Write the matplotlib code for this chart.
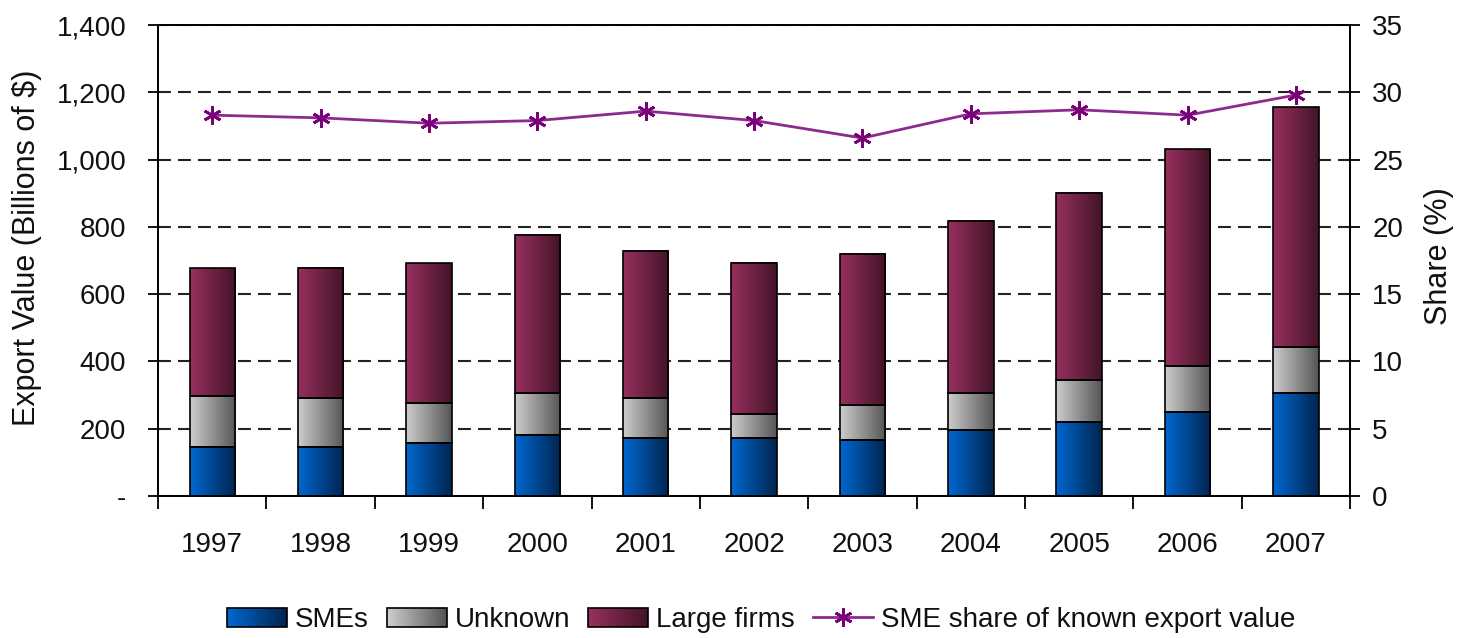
import numpy as np
import matplotlib
matplotlib.use('Agg')
import matplotlib.pyplot as plt
from matplotlib.colors import LinearSegmentedColormap, to_rgb
from matplotlib.patches import Rectangle
from matplotlib.legend_handler import HandlerPatch
from matplotlib.lines import Line2D
from matplotlib.ticker import FuncFormatter, MultipleLocator

# ---- data ----
years = ['1997', '1998', '1999', '2000', '2001', '2002', '2003', '2004', '2005', '2006', '2007']
smes = [145, 145, 158, 180, 173, 173, 166, 195, 221, 249, 305]
unknown = [153, 145, 119, 125, 117, 70, 104, 110, 124, 138, 139]
large = [380, 388, 416, 471, 437, 451, 450, 512, 556, 645, 712]
share = [28.3, 28.1, 27.7, 27.9, 28.6, 27.9, 26.6, 28.4, 28.7, 28.3, 29.8]

series_names = ['SMEs', 'Unknown', 'Large firms']
line_name = 'SME share of known export value'

# ---- style ----
plt.rcParams['font.family'] = ['Liberation Sans', 'DejaVu Sans']
TXT = '#111111'
FS = 20
grad_colors = {
    'SMEs': ('#0068D0', '#00244F'),
    'Unknown': ('#CDCDCD', '#555555'),
    'Large firms': ('#98305F', '#421428'),
}
line_color = '#8E2A8E'
marker_color = '#7A007A'

fig = plt.figure(figsize=(14.64, 6.38), dpi=100)
ax = fig.add_axes([0.108, 0.2226, 0.8142, 0.7382])
ax2 = ax.twinx()

x = np.arange(len(years))
width = 0.42

bottom = np.zeros(len(years))
for name, vals in zip(series_names, [smes, unknown, large]):
    c0, c1 = grad_colors[name]
    cmap = LinearSegmentedColormap.from_list(name, [c0, c1])
    bars = ax.bar(x, vals, width=width, bottom=bottom, facecolor='none',
                  edgecolor='black', linewidth=1.2, zorder=3)
    grad = np.linspace(0, 1, 256).reshape(1, -1)
    for r in bars:
        x0, y0 = r.get_x(), r.get_y()
        w, h = r.get_width(), r.get_height()
        ax.imshow(grad, extent=[x0, x0 + w, y0, y0 + h], aspect='auto',
                  cmap=cmap, interpolation='bilinear', zorder=2, origin='lower')
    bottom = bottom + np.array(vals)

ax.set_xlim(-0.5, len(years) - 0.5)
ax.set_ylim(0, 1400)
ax.set_aspect('auto')
ax.yaxis.set_major_locator(MultipleLocator(200))
ax.yaxis.set_major_formatter(FuncFormatter(lambda v, p: '-' if v == 0 else f'{int(v):,}'))
ax.set_axisbelow(True)
ax.grid(axis='y', color='#222222', linewidth=1.5, linestyle=(0, (6.2, 3.4)))
ax.grid(axis='x', visible=False)

ax.set_xticks(x)
ax.set_xticklabels(years)
ax.set_xticks(np.arange(-0.5, len(years), 1), minor=True)
ax.tick_params(axis='x', which='major', length=0, pad=26, labelsize=FS, colors=TXT)
ax.tick_params(axis='x', which='minor', length=9.5, width=1.3, direction='out', color='black')
ax.tick_params(axis='y', which='major', length=7, width=1.3, direction='out', pad=16,
               labelsize=FS, labelcolor=TXT, color='black')

for s in ax.spines.values():
    s.set_linewidth(1.3)
    s.set_color('black')

ax.set_ylabel('Export Value (Billions of $)', fontsize=22, color=TXT)
ax.yaxis.set_label_coords(-0.097, 0.527)

# line on secondary axis
ax2.plot(x, share, color=line_color, linewidth=2.0, marker=(6, 2, 0), markersize=13,
         markeredgecolor=marker_color, markeredgewidth=2.0, zorder=5)
ax2.set_ylim(0, 35)
ax2.yaxis.set_major_locator(MultipleLocator(5))
ax2.tick_params(axis='y', length=7, width=1.3, direction='out', pad=9,
                labelsize=FS, labelcolor=TXT, color='black')
ax2.set_ylabel('Share (%)', fontsize=22, color=TXT, rotation=90)
ax2.yaxis.set_label_coords(1.062, 0.51)
for s in ax2.spines.values():
    s.set_linewidth(1.3)


# legend with gradient patches
class GradHandler(HandlerPatch):
    def __init__(self, c0, c1, n=30):
        super().__init__()
        self.c0 = np.array(to_rgb(c0))
        self.c1 = np.array(to_rgb(c1))
        self.n = n

    def create_artists(self, legend, orig_handle, xdescent, ydescent, width, height, fontsize, trans):
        arts = []
        for i in range(self.n):
            t = i / (self.n - 1)
            c = self.c0 * (1 - t) + self.c1 * t
            arts.append(Rectangle((-xdescent + i * width / self.n, -ydescent),
                                  width / self.n * 1.08, height, facecolor=c,
                                  edgecolor='none', transform=trans))
        arts.append(Rectangle((-xdescent, -ydescent), width, height, facecolor='none',
                              edgecolor='black', linewidth=1.2, transform=trans))
        return arts


handles = []
hmap = {}
for name in series_names:
    h = Rectangle((0, 0), 1, 1)
    handles.append(h)
    hmap[h] = GradHandler(*grad_colors[name])
lh = Line2D([], [], color=line_color, linewidth=2.0, marker=(6, 2, 0), markersize=13,
            markeredgecolor=marker_color, markeredgewidth=2.0)
handles.append(lh)

fig.legend(handles, series_names + [line_name], handler_map=hmap, loc='center',
           bbox_to_anchor=(0.52, 0.028), ncol=4, frameon=False, fontsize=FS,
           handlelength=2.15, handleheight=0.72, handletextpad=0.3, columnspacing=0.65,
           labelcolor=TXT)

fig.savefig('out.png', dpi=100)
